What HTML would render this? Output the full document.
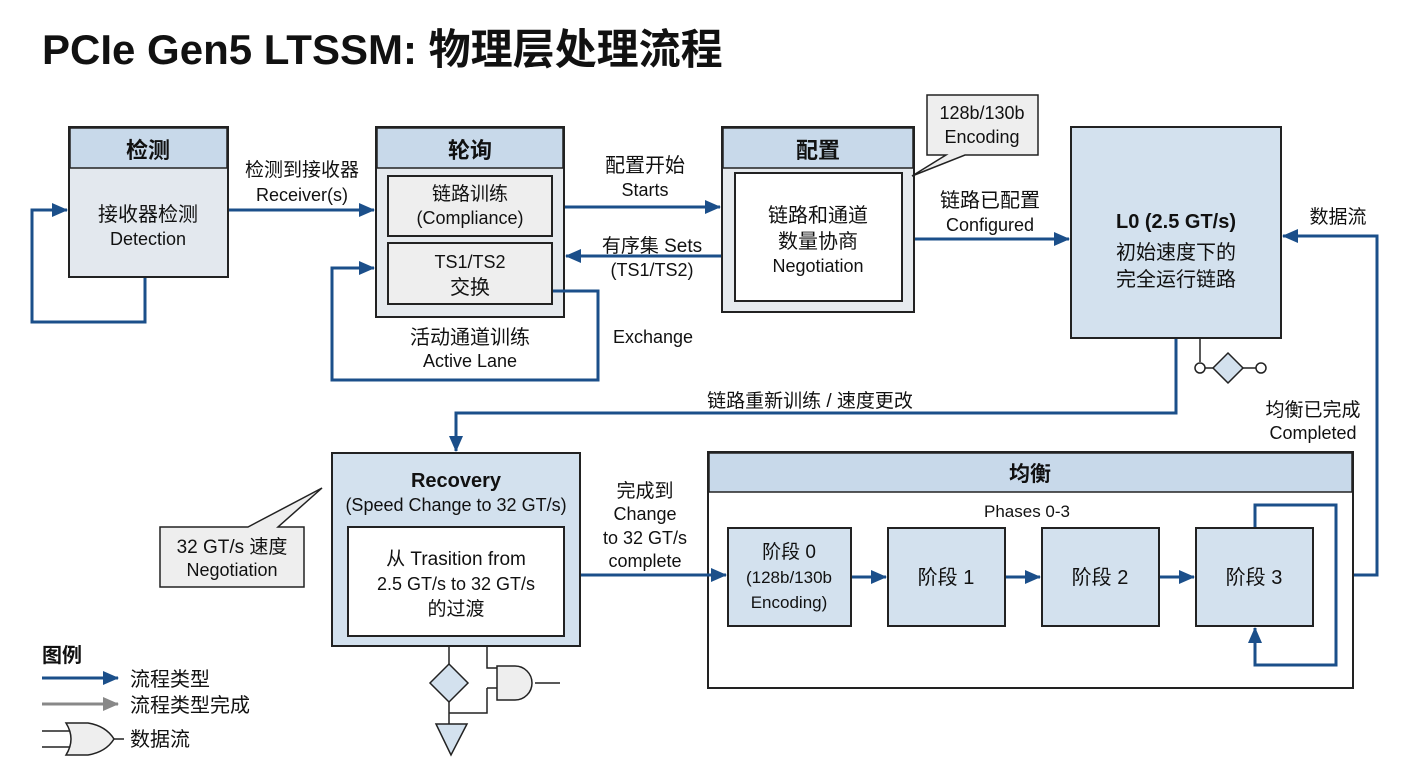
<!DOCTYPE html>
<html><head><meta charset="utf-8"><style>
html,body{margin:0;padding:0;background:#fff}
svg{display:block}
text{font-family:"Liberation Sans","Noto Sans CJK SC",sans-serif;fill:#111}
</style></head><body>
<svg width="1408" height="768" viewBox="0 0 1408 768" xmlns="http://www.w3.org/2000/svg">
<defs>
<marker id="b" markerWidth="16" markerHeight="16" refX="15" refY="8" orient="auto" markerUnits="userSpaceOnUse"><path d="M0,1 L16,8 L0,15 z" fill="#1b4f8a"/></marker>
<marker id="g" markerWidth="16" markerHeight="16" refX="15" refY="8" orient="auto" markerUnits="userSpaceOnUse"><path d="M0,1 L16,8 L0,15 z" fill="#888"/></marker>
</defs>
<text x="42" y="64" font-size="42" font-weight="bold">PCIe Gen5 LTSSM: 物理层处理流程</text>

<!-- 检测 -->
<rect x="69" y="127" width="159" height="150" fill="#e3e8ee" stroke="#222" stroke-width="2"/>
<rect x="70" y="128" width="157" height="40" fill="#c8d9ea" stroke="#222" stroke-width="1.5"/>
<text x="148" y="158" font-size="22" font-weight="bold" text-anchor="middle">检测</text>
<text x="148" y="221" font-size="20" text-anchor="middle">接收器检测</text>
<text x="148" y="245" font-size="18" text-anchor="middle">Detection</text>
<text x="302" y="176" font-size="19" text-anchor="middle">检测到接收器</text>
<text x="302" y="201" font-size="18" text-anchor="middle">Receiver(s)</text>

<!-- 轮询 -->
<rect x="376" y="127" width="188" height="190" fill="#e6eaee" stroke="#222" stroke-width="2"/>
<rect x="377" y="128" width="186" height="40" fill="#c8d9ea" stroke="#222" stroke-width="1.5"/>
<text x="470" y="158" font-size="22" font-weight="bold" text-anchor="middle">轮询</text>
<rect x="388" y="176" width="164" height="60" fill="#eeeeee" stroke="#222" stroke-width="2"/>
<text x="470" y="200" font-size="19" text-anchor="middle">链路训练</text>
<text x="470" y="224" font-size="18" text-anchor="middle">(Compliance)</text>
<rect x="388" y="243" width="164" height="61" fill="#eeeeee" stroke="#222" stroke-width="2"/>
<text x="470" y="268" font-size="18" text-anchor="middle">TS1/TS2</text>
<text x="470" y="294" font-size="20" text-anchor="middle">交换</text>
<text x="470" y="344" font-size="20" text-anchor="middle">活动通道训练</text>
<text x="470" y="367" font-size="18" text-anchor="middle">Active Lane</text>
<text x="653" y="343" font-size="18" text-anchor="middle">Exchange</text>
<text x="645" y="172" font-size="20" text-anchor="middle">配置开始</text>
<text x="645" y="196" font-size="18" text-anchor="middle">Starts</text>
<text x="652" y="252" font-size="19" text-anchor="middle">有序集 Sets</text>
<text x="652" y="276" font-size="18" text-anchor="middle">(TS1/TS2)</text>

<!-- 配置 -->
<rect x="722" y="127" width="192" height="185" fill="#e6eaee" stroke="#222" stroke-width="2"/>
<rect x="723" y="128" width="190" height="40" fill="#c8d9ea" stroke="#222" stroke-width="1.5"/>
<text x="818" y="158" font-size="22" font-weight="bold" text-anchor="middle">配置</text>
<rect x="735" y="173" width="167" height="128" fill="#fff" stroke="#222" stroke-width="2"/>
<text x="818" y="222" font-size="20" text-anchor="middle">链路和通道</text>
<text x="818" y="248" font-size="20" text-anchor="middle">数量协商</text>
<text x="818" y="272" font-size="18" text-anchor="middle">Negotiation</text>
<path d="M927,95 H1038 V155 H965 L912,176 L946,155 H927 Z" fill="#eeeeee" stroke="#222" stroke-width="1.5"/>
<text x="982" y="119" font-size="18" text-anchor="middle">128b/130b</text>
<text x="982" y="143" font-size="18" text-anchor="middle">Encoding</text>
<text x="990" y="207" font-size="20" text-anchor="middle">链路已配置</text>
<text x="990" y="231" font-size="18" text-anchor="middle">Configured</text>

<!-- L0 -->
<rect x="1071" y="127" width="210" height="211" fill="#d3e1ee" stroke="#222" stroke-width="2"/>
<text x="1176" y="228" font-size="20" font-weight="bold" text-anchor="middle">L0 (2.5 GT/s)</text>
<text x="1176" y="259" font-size="20" text-anchor="middle">初始速度下的</text>
<text x="1176" y="286" font-size="20" text-anchor="middle">完全运行链路</text>
<text x="1338" y="223" font-size="19" text-anchor="middle">数据流</text>
<text x="1313" y="416" font-size="19" text-anchor="middle">均衡已完成</text>
<text x="1313" y="439" font-size="18" text-anchor="middle">Completed</text>
<g stroke="#222" stroke-width="1.5">
<path d="M1200,338 V362" fill="none"/>
<path d="M1205,368 H1214 M1242,368 H1256" fill="none"/>
<circle cx="1200" cy="368" r="5" fill="#fff"/>
<circle cx="1261" cy="368" r="5" fill="#fff"/>
<path d="M1228,353 L1243,368 L1228,383 L1213,368 Z" fill="#d3e1ee"/>
</g>
<text x="810" y="407" font-size="19" text-anchor="middle">链路重新训练 / 速度更改</text>

<!-- Recovery -->
<rect x="332" y="453" width="248" height="193" fill="#d3e1ee" stroke="#222" stroke-width="2"/>
<text x="456" y="487" font-size="20" font-weight="bold" text-anchor="middle">Recovery</text>
<text x="456" y="511" font-size="18" text-anchor="middle">(Speed Change to 32 GT/s)</text>
<rect x="348" y="527" width="216" height="109" fill="#fff" stroke="#222" stroke-width="2"/>
<text x="456" y="565" font-size="19" text-anchor="middle">从 Trasition from</text>
<text x="456" y="590" font-size="18" text-anchor="middle">2.5 GT/s to 32 GT/s</text>
<text x="456" y="615" font-size="19" text-anchor="middle">的过渡</text>
<path d="M160,527 H248 L322,488 L278,527 H304 V587 H160 Z" fill="#eeeeee" stroke="#222" stroke-width="1.5"/>
<text x="232" y="553" font-size="19" text-anchor="middle">32 GT/s 速度</text>
<text x="232" y="576" font-size="18" text-anchor="middle">Negotiation</text>
<text x="645" y="497" font-size="19" text-anchor="middle">完成到</text>
<text x="645" y="520" font-size="18" text-anchor="middle">Change</text>
<text x="645" y="544" font-size="18" text-anchor="middle">to 32 GT/s</text>
<text x="645" y="567" font-size="18" text-anchor="middle">complete</text>

<!-- logic below recovery -->
<g stroke="#222" stroke-width="1.5" fill="none">
<path d="M449,646 V664 M449,702 V724"/>
<path d="M487,646 V668 H497 M487,688 V713 H449 M487,688 H497 M535,683 H560"/>
<path d="M449,664 L468,683 L449,702 L430,683 Z" fill="#d3e1ee"/>
<path d="M436,724 H467 L451,755 Z" fill="#d3e1ee"/>
<path d="M497,666 H515 A17,17 0 0 1 515,700 H497 Z" fill="#eeeeee"/>
</g>

<!-- 均衡 -->
<rect x="708" y="452" width="645" height="236" fill="#fff" stroke="#222" stroke-width="2"/>
<rect x="709" y="453" width="643" height="39" fill="#c8d9ea" stroke="#222" stroke-width="1.5"/>
<text x="1030" y="481" font-size="21" font-weight="bold" text-anchor="middle">均衡</text>
<text x="1027" y="517" font-size="17" text-anchor="middle">Phases 0-3</text>
<g stroke="#222" stroke-width="2" fill="#d3e1ee">
<rect x="728" y="528" width="123" height="98"/>
<rect x="888" y="528" width="117" height="98"/>
<rect x="1042" y="528" width="117" height="98"/>
<rect x="1196" y="528" width="117" height="98"/>
</g>
<text x="789" y="558" font-size="19" text-anchor="middle">阶段 0</text>
<text x="789" y="583" font-size="17" text-anchor="middle">(128b/130b</text>
<text x="789" y="608" font-size="17" text-anchor="middle">Encoding)</text>
<text x="946" y="584" font-size="20" text-anchor="middle">阶段 1</text>
<text x="1100" y="584" font-size="20" text-anchor="middle">阶段 2</text>
<text x="1254" y="584" font-size="20" text-anchor="middle">阶段 3</text>

<!-- legend -->
<text x="42" y="662" font-size="20" font-weight="bold">图例</text>
<text x="130" y="686" font-size="20">流程类型</text>
<text x="130" y="712" font-size="20">流程类型完成</text>
<text x="130" y="746" font-size="20">数据流</text>
<g stroke="#222" stroke-width="1.5" fill="none">
<path d="M42,731 H72 M42,747 H72 M112,739 H124"/>
<path d="M66,723 H88 Q106,726 114,739 Q106,752 88,755 H66 Q76,739 66,723 Z" fill="#eeeeee"/>
</g>

<!-- connectors on top -->
<g stroke="#1b4f8a" stroke-width="3" fill="none">
<path d="M145,278 V322 H32 V210 H67" marker-end="url(#b)"/>
<path d="M229,210 H374" marker-end="url(#b)"/>
<path d="M553,291 H598 V380 H332 V268 H374" marker-end="url(#b)"/>
<path d="M565,207 H720" marker-end="url(#b)"/>
<path d="M721,256 H566" marker-end="url(#b)"/>
<path d="M915,239 H1069" marker-end="url(#b)"/>
<path d="M1354,575 H1377 V236 H1283" marker-end="url(#b)"/>
<path d="M1176,339 V413 H456 V451" marker-end="url(#b)"/>
<path d="M581,575 H726" marker-end="url(#b)"/>
<path d="M852,577 H886" marker-end="url(#b)"/>
<path d="M1006,577 H1040" marker-end="url(#b)"/>
<path d="M1160,577 H1194" marker-end="url(#b)"/>
<path d="M1255,527 V505 H1336 V665 H1255 V628" marker-end="url(#b)"/>
<path d="M42,678 H118" marker-end="url(#b)"/>
</g>
<path d="M42,704 H118" stroke="#888" stroke-width="3" marker-end="url(#g)"/>
</svg>
</body></html>
